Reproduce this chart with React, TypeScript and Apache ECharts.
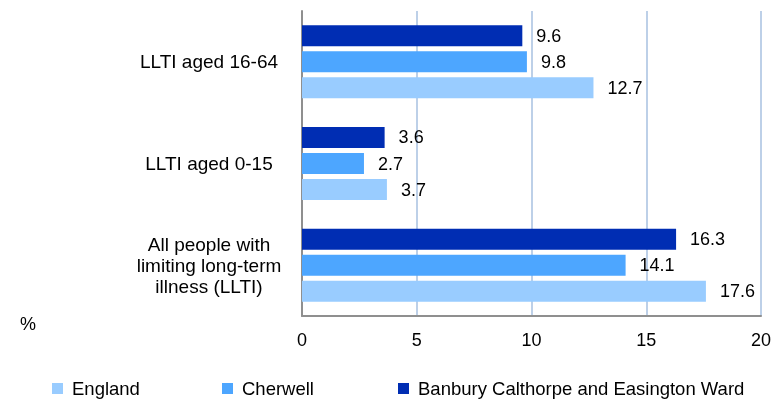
import React, { useEffect, useRef } from "react";
import * as echarts from "echarts";

const categories = [
  "All people with\nlimiting long-term\nillness (LLTI)",
  "LLTI aged 0-15",
  "LLTI aged 16-64",
];
const legendNames = ["England", "Cherwell", "Banbury Calthorpe and Easington Ward"];
const england = [17.6, 3.7, 12.7];
const cherwell = [14.1, 2.7, 9.8];
const banbury = [16.3, 3.6, 9.6];
const xTicks = { min: 0, max: 20, interval: 5 };
const colors = ["#99CCFF", "#4DA6FF", "#002DB3"];

export default function App() {
  const ref = useRef<HTMLDivElement>(null);
  useEffect(() => {
    if (!ref.current) return;
    const chart = echarts.init(ref.current, null, { renderer: "svg" });
    const font = "Liberation Sans, Arial, sans-serif";
    const data = [england, cherwell, banbury];
    const legendLefts = [52, 222, 398];
    // series drawn top-to-bottom within each group: Banbury, Cherwell, England
    const order = [2, 1, 0];
    chart.setOption({
      animation: false,
      textStyle: { fontFamily: font },
      grid: { left: 302, right: 15, top: 11, bottom: 83, containLabel: false },
      xAxis: {
        type: "value",
        min: xTicks.min,
        max: xTicks.max,
        interval: xTicks.interval,
        axisLine: { show: true, lineStyle: { color: "#8f8f8f", width: 2 } },
        axisTick: { show: false },
        splitLine: { show: true, lineStyle: { color: "#BDD0E8", width: 2 } },
        axisLabel: { color: "#000", fontSize: 18, margin: 15, fontFamily: font },
      },
      yAxis: {
        type: "category",
        data: categories,
        axisLine: { show: true, lineStyle: { color: "#8f8f8f", width: 2 } },
        axisTick: { show: false },
        axisLabel: {
          color: "#000",
          fontSize: 19,
          margin: 10,
          lineHeight: 21,
          fontFamily: font,
          formatter: (v: string) =>
            v
              .split("\n")
              .map((l) => `{a|${l}}`)
              .join("\n"),
          rich: {
            a: {
              width: 166,
              align: "center",
              fontSize: 19,
              lineHeight: 21,
              color: "#000",
              fontFamily: font,
            },
          },
        },
      },
      legend: legendNames.map((n, i) => ({
        show: true,
        data: [n],
        left: legendLefts[i],
        top: 379,
        padding: 0,
        itemWidth: 11,
        itemHeight: 11,
        icon: "rect",
        textStyle: { color: "#000", fontSize: 18.5, fontFamily: font, padding: [0, 0, 0, 4] },
      })),
      graphic: [
        {
          type: "text",
          left: 20,
          top: 315,
          style: { text: "%", fontSize: 18, fill: "#000", fontFamily: font },
        },
      ],
      series: order.map((i) => ({
        name: legendNames[i],
        type: "bar",
        data: data[i],
        barWidth: 21,
        barGap: "24%",
        itemStyle: { color: colors[i] },
        label: {
          show: true,
          position: "right",
          distance: 14,
          color: "#000",
          fontSize: 18,
          fontFamily: font,
        },
      })),
    });
    return () => chart.dispose();
  }, []);
  return (
    <div
      ref={ref}
      style={{ position: "fixed", left: 0, top: 0, width: 776, height: 399 }}
    />
  );
}
